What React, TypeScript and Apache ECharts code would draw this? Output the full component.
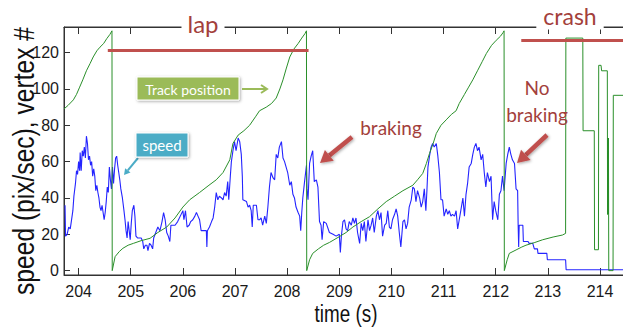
import React, { useEffect, useRef } from "react";
import * as echarts from "echarts";

// time (s), speed (pix/sec)
const speedData: [number, number][] = [
  [203.74,36],[203.75,19],[203.78,20],[203.81,24],[203.84,23],[203.86,27],[203.89,33],[203.91,41],[203.94,48],[203.96,55],[203.98,53],[204.00,60],[204.02,55],[204.03,65],[204.05,55],[204.07,66],[204.09,63],[204.11,68],[204.13,62],[204.15,74],[204.17,70],[204.19,61],[204.21,63],[204.23,58],[204.25,60],[204.27,52],[204.29,56],[204.31,52],[204.33,44],[204.35,47],[204.37,43],[204.39,40],[204.41,35],[204.43,33],[204.45,36],[204.47,32],[204.49,28],[204.51,32],[204.53,38],[204.55,46],[204.57,43],[204.59,57],[204.61,50],[204.63,45],[204.65,57],[204.67,48],[204.69,56],[204.71,62],[204.73,63],[204.75,58],[204.77,54],[204.79,50],[204.81,45],[204.84,40],[204.87,33],[204.89,28],[204.91,22],[204.93,18],[204.95,27],[204.97,22],[204.99,17],[205.01,26],[205.03,33],[205.06,36],[205.08,30],[205.10,19],[205.13,18],[205.16,18],[205.20,18],[205.23,16],[205.25,12],[205.28,14],[205.31,14],[205.33,11],[205.36,15],[205.39,14],[205.42,12],[205.44,18],[205.48,21],[205.52,24],[205.56,22],[205.60,27],[205.63,32],[205.66,28],[205.69,21],[205.72,19],[205.75,16],[205.77,25],[205.80,25],[205.85,25],[205.90,27],[205.95,30],[206.00,33],[206.02,28],[206.05,33],[206.08,24],[206.12,25],
  [206.15,27],[206.19,28],[206.23,30],[206.26,32],[206.29,30],[206.32,28],[206.35,22],[206.42,22],[206.45,22],[206.46,13],[206.47,22],[206.51,24],[206.55,27],[206.58,29],[206.61,35],[206.64,43],[206.67,39],[206.70,41],[206.74,40],[206.77,39],[206.80,43],[206.83,41],[206.86,49],[206.88,39],[206.91,52],[206.93,60],[206.96,66],[206.99,71],[207.02,66],[207.06,73],[207.09,71],[207.12,64],[207.14,52],[207.15,39],[207.22,38],[207.25,35],[207.28,36],[207.31,33],[207.33,24],[207.35,36],[207.41,36],[207.44,28],[207.47,28],[207.50,29],[207.53,25],[207.57,30],[207.60,26],[207.63,35],[207.66,46],[207.69,54],[207.73,51],[207.76,50],[207.79,64],[207.82,62],[207.85,68],[207.89,71],[207.92,62],[207.95,60],[207.98,57],[208.01,54],[208.05,47],[208.08,49],[208.11,42],[208.14,40],[208.17,35],[208.21,32],[208.24,30],[208.26,22],[208.28,32],[208.30,40],[208.33,48],[208.37,58],[208.38,45],[208.40,39],[208.43,59],[208.46,63],[208.49,66],[208.52,49],[208.56,50],[208.59,46],[208.62,27],
  [208.65,25],[208.67,17],[208.70,27],[208.75,26],[208.81,21],[208.88,20],[208.94,19],[209.00,20],[209.02,10],[209.04,19],[209.07,27],[209.10,28],[209.13,23],[209.16,22],[209.19,27],[209.23,25],[209.26,29],[209.29,26],[209.32,29],[209.35,21],[209.39,15],[209.42,26],[209.45,22],[209.48,27],[209.51,16],[209.55,28],[209.58,22],[209.61,25],[209.64,29],[209.67,21],[209.71,30],[209.74,33],[209.77,28],[209.80,32],[209.83,19],[209.87,25],[209.90,26],[209.93,33],[209.96,24],[209.99,23],[210.02,28],[210.06,31],[210.09,34],[210.12,30],[210.15,21],[210.18,13],[210.22,27],[210.25,28],[210.28,23],[210.31,26],[210.34,35],[210.38,39],[210.41,46],[210.44,45],[210.47,38],[210.50,44],[210.54,40],[210.57,35],[210.60,38],[210.63,45],[210.66,33],[210.68,44],[210.70,57],[210.73,63],[210.76,68],[210.79,70],[210.82,68],[210.86,70],[210.89,63],[210.92,54],[210.95,39],[210.98,39],[211.01,30],[211.05,34],[211.08,31],
  [211.11,33],[211.14,30],[211.17,31],[211.21,30],[211.24,33],[211.27,23],[211.30,28],[211.33,33],[211.37,40],[211.40,30],[211.43,42],[211.46,48],[211.49,57],[211.53,59],[211.56,64],[211.59,68],[211.62,70],[211.65,66],[211.68,68],[211.72,61],[211.75,64],[211.78,54],[211.81,46],[211.84,54],[211.88,49],[211.91,52],[211.94,28],[211.97,38],[212.00,33],[212.04,28],[212.07,42],[212.10,44],[212.13,52],[212.16,44],[212.20,59],[212.23,64],[212.26,68],[212.29,64],[212.32,61],[212.36,59],[212.39,45],[212.42,44],[212.43,25],[212.44,13],[212.45,25],[212.52,25],[212.53,16],[212.62,16],[212.64,15],[212.71,15],[212.74,12],[212.80,12],[212.81,9.5],[212.98,9.5],[212.99,6],[213.34,6],[213.35,0.5],[214.46,0.5]
];

// time (s), track position (vertex #)
const trackData: [number, number][] = [
  [203.72,89],[203.80,91],[203.90,94],[203.96,97],[204.02,101],[204.08,105],[204.15,110],[204.22,114],[204.28,117.6],[204.35,121],[204.41,123],[204.48,125],[204.54,127.7],[204.60,130],[204.64,132],[204.645,0],
  [204.70,7.7],[204.78,10.5],[204.85,12.3],[204.95,14],[205.05,15],[205.20,16.5],[205.37,17.8],[205.52,21],[205.69,24],[205.85,29],[206.00,35],[206.13,39],[206.32,43],[206.50,47],[206.64,50],[206.77,54],[206.90,61],[206.96,70],[207.06,74.6],[207.17,77],[207.28,80],[207.40,85],[207.47,88],[207.60,90],[207.70,92],[207.79,95],[207.86,100],[207.92,105],[207.98,111],[208.05,117.6],[208.13,122],[208.21,125],[208.28,128],[208.34,130.4],[208.37,132],[208.375,0],
  [208.43,6],[208.49,9.5],[208.60,12],[208.70,14],[208.81,15.5],[209.00,18.7],[209.13,21],[209.26,24],[209.42,27],[209.58,29.7],[209.74,34],[209.90,38],[210.06,41],[210.22,44],[210.41,47],[210.50,50],[210.60,53.5],[210.67,59],[210.73,64.5],[210.80,70],[210.86,75.5],[210.95,80],[211.05,83],[211.15,86],[211.24,88],[211.30,92],[211.40,97],[211.48,101],[211.56,105],[211.65,110],[211.74,115],[211.82,119.5],[211.92,124],[212.01,126.8],[212.09,129],[212.14,131],[212.16,132],[212.165,0],
  [212.22,6],[212.26,9.5],[212.39,11.4],[212.50,13],[212.58,14],[212.75,15.5],[212.90,17],[213.10,18.5],[213.28,19.6],[213.34,20.5],[213.345,128],[213.67,128],[213.675,77],[213.89,77],[213.895,11.5],[213.97,11.5],[213.975,113],[214.02,113],[214.03,110],[214.14,110],[214.145,31],[214.15,73],[214.153,31],[214.156,73],[214.159,31],[214.162,73],[214.165,31],[214.168,0],[214.25,0],[214.255,96.5],[214.46,96.5]
];

// annotation spans: [startTime, endTime, level]
const lapSpan: [number, number, number] = [204.56, 208.41, 121.1];
const crashSpan: [number, number, number] = [212.49, 214.46, 126.8];

const xRange: [number, number] = [203.72, 214.46];
const yRange: [number, number] = [-2.4, 134.1];

const SANS = "'Liberation Sans', Arial, sans-serif";
const CAL = "Lato, 'Open Sans', sans-serif";
const RED = "#c0504d";
const RED_TXT = "#a33f3c";

function arrow(x1: number, y1: number, x2: number, y2: number, color: string, width: number, headLen: number, headW: number, shadow = false) {
  const dx = x2 - x1, dy = y2 - y1;
  const len = Math.sqrt(dx * dx + dy * dy);
  const ux = dx / len, uy = dy / len;
  const bx = x2 - ux * headLen, by = y2 - uy * headLen;
  const px = -uy, py = ux;
  const sh = shadow ? { shadowBlur: 3, shadowColor: "rgba(0,0,0,0.35)", shadowOffsetX: 1, shadowOffsetY: 1 } : {};
  return {
    type: "group",
    children: [
      { type: "line", shape: { x1, y1, x2: bx, y2: by }, style: { stroke: color, lineWidth: width, ...sh } },
      {
        type: "polygon",
        shape: { points: [[x2, y2], [bx + px * headW / 2, by + py * headW / 2], [bx - px * headW / 2, by - py * headW / 2]] },
        style: { fill: color, ...sh },
      },
    ],
  };
}

const intLabel = (v: number) => (Math.abs(v - Math.round(v)) < 1e-6 ? String(Math.round(v)) : "");
const yLabel = (v: number) => (Math.abs(v / 20 - Math.round(v / 20)) < 1e-6 ? String(Math.round(v)) : "");

export default function App() {
  const ref = useRef<HTMLDivElement>(null);
  useEffect(() => {
    document.body.style.margin = "0";
    if (!ref.current) return;
    const chart = echarts.init(ref.current, null, { renderer: "svg" });
    const axisColor = "#333";
    chart.setOption({
      animation: false,
      backgroundColor: "#fff",
      grid: {
        left: 64, right: -1, top: 27, bottom: 52,
        containLabel: false, outerBoundsMode: "none",
        show: true, borderColor: axisColor, borderWidth: 1, backgroundColor: "transparent",
      },
      xAxis: [
        {
          type: "value",
          min: xRange[0],
          max: xRange[1],
          splitNumber: 10,
          position: "bottom",
          axisLine: { show: true, onZero: false, lineStyle: { color: axisColor, width: 1 } },
          axisTick: { show: true, inside: true, length: 7, lineStyle: { color: axisColor } },
          axisLabel: { formatter: intLabel, fontFamily: SANS, fontSize: 16, color: "#1a1a1a", margin: 8, showMinLabel: false, showMaxLabel: false },
          splitLine: { show: false },
        },
        {
          type: "value",
          show: true,
          min: xRange[0],
          max: xRange[1],
          splitNumber: 10,
          position: "top",
          offset: 0,
          axisLine: { show: true, onZero: false, lineStyle: { color: axisColor, width: 1 } },
          axisTick: { show: true, inside: true, length: 7, lineStyle: { color: axisColor, width: 1 } },
          axisLabel: { show: true, formatter: () => "" },
          splitLine: { show: false },
        },
      ],
      yAxis: {
        type: "value",
        min: yRange[0],
        max: yRange[1],
        splitNumber: 7,
        axisLine: { show: true, onZero: false, lineStyle: { color: axisColor, width: 1 } },
        axisTick: { show: true, inside: true, length: 6, lineStyle: { color: axisColor } },
        axisLabel: { formatter: yLabel, fontFamily: SANS, fontSize: 16, color: "#1a1a1a", margin: 5, showMinLabel: false, showMaxLabel: false },
        splitLine: { show: false },
      },
      series: [
        {
          name: "speed",
          type: "line",
          data: speedData,
          showSymbol: false,
          symbol: "none",
          lineStyle: { color: "#2424ff", width: 1.1 },
          z: 2,
        },
        {
          name: "Track position",
          type: "line",
          data: trackData,
          showSymbol: false,
          symbol: "none",
          lineStyle: { color: "#2a8f2a", width: 1 },
          z: 3,
        },
        {
          name: "annotations",
          type: "line",
          xAxisIndex: 1,
          data: [],
          showSymbol: false,
          z: 4,
          markLine: {
            silent: true,
            symbol: "none",
            label: { show: false },
            lineStyle: { color: RED, width: 3, type: "solid" },
            data: [
              [{ coord: [lapSpan[0], lapSpan[2]] }, { coord: [lapSpan[1], lapSpan[2]] }],
              [{ coord: [crashSpan[0], crashSpan[2]] }, { coord: [crashSpan[1], crashSpan[2]] }],
            ],
          },
        },
      ],
      graphic: [
        { type: "text", x: 24, y: 161, rotation: Math.PI / 2, scaleX: 0.82, z: 100, style: { text: "speed (pix/sec), vertex #", font: `30px ${SANS}`, fill: "#111", align: "center", verticalAlign: "middle" } },
        { type: "text", x: 346, y: 314, scaleX: 0.82, z: 100, style: { text: "time (s)", font: `23px ${SANS}`, fill: "#111", align: "center", verticalAlign: "middle" } },
        { type: "text", x: 203, y: 23, z: 100, style: { text: "lap", font: `24px ${CAL}`, fill: RED_TXT, align: "center", verticalAlign: "middle", backgroundColor: "#fff", padding: [2, 6] } },
        { type: "text", x: 570, y: 16, z: 100, style: { text: "crash", font: `23px ${CAL}`, fill: RED_TXT, align: "center", verticalAlign: "middle", backgroundColor: "#fff", padding: [2, 7] } },
        { type: "rect", z: 100, shape: { x: 137, y: 77, width: 102, height: 23 }, style: { fill: "#9bbb59", stroke: "#fff", lineWidth: 1, shadowBlur: 3, shadowColor: "rgba(0,0,0,0.35)", shadowOffsetX: 1, shadowOffsetY: 1 } },
        { type: "text", z: 101, x: 188, y: 89, style: { text: "Track position", font: `14px ${CAL}`, fill: "#fff", align: "center", verticalAlign: "middle" } },
        { type: "line", z: 100, shape: { x1: 242, y1: 89, x2: 267, y2: 89 }, style: { stroke: "#9bbb59", lineWidth: 2 } },
        { type: "polyline", z: 100, shape: { points: [[261, 85], [267, 89], [261, 93]] }, style: { stroke: "#9bbb59", lineWidth: 2, fill: null } },
        { type: "rect", z: 100, shape: { x: 136, y: 133, width: 52, height: 24 }, style: { fill: "#4bacc6", stroke: "#fff", lineWidth: 1, shadowBlur: 3, shadowColor: "rgba(0,0,0,0.35)", shadowOffsetX: 1, shadowOffsetY: 1 } },
        { type: "text", z: 101, x: 162, y: 145, style: { text: "speed", font: `15px ${CAL}`, fill: "#fff", align: "center", verticalAlign: "middle" } },
        { ...arrow(138, 158, 124, 175, "#4bacc6", 2, 6, 7), z: 100 },
        { type: "text", z: 100, x: 391, y: 127, style: { text: "braking", font: `19px ${CAL}`, fill: RED_TXT, align: "center", verticalAlign: "middle" } },
        { ...arrow(352, 137, 320, 163, RED, 4.5, 12, 14, true), z: 100 },
        { type: "text", z: 100, x: 537, y: 101, style: { text: "No\nbraking", font: `19px ${CAL}`, fill: RED_TXT, align: "center", verticalAlign: "middle", lineHeight: 27 } },
        { ...arrow(547, 135, 517, 163, RED, 4.5, 12, 14, true), z: 100 },
      ],
    });
    return () => chart.dispose();
  }, []);
  return <div ref={ref} style={{ width: 623, height: 327 }} />;
}
